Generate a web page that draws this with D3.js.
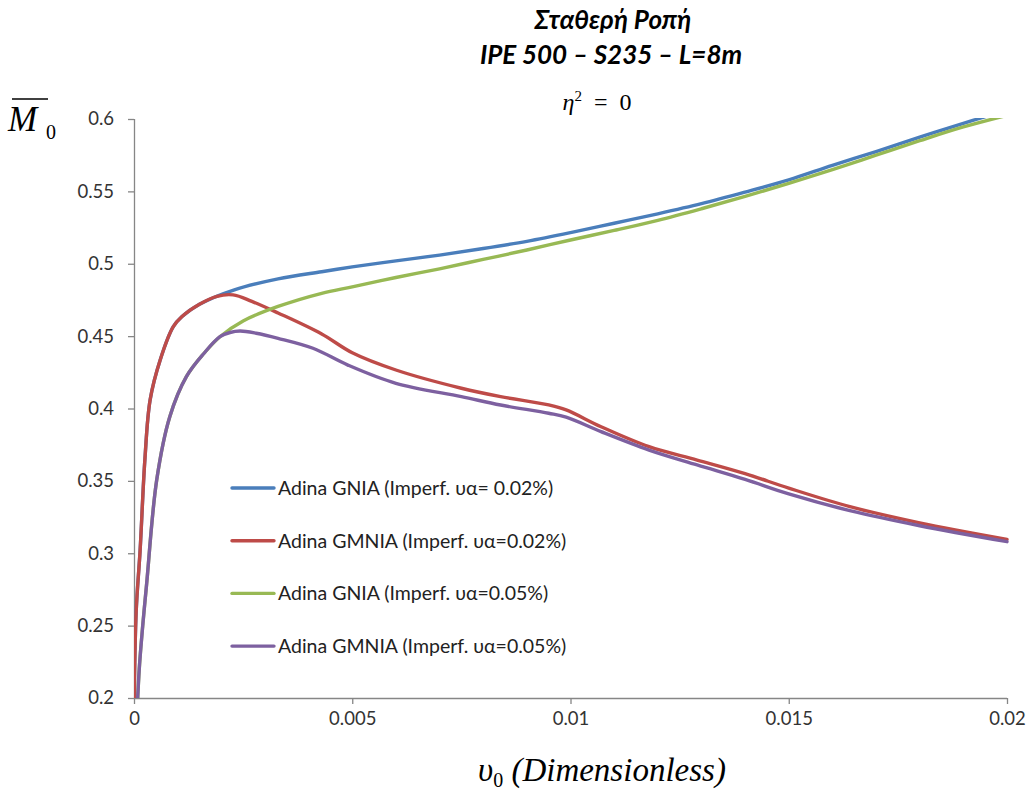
<!DOCTYPE html>
<html>
<head>
<meta charset="utf-8">
<script src="https://cdn.jsdelivr.net/npm/d3@7"></script>
<style>
  body { margin: 0; background: #fff; }
  svg { display: block; }
</style>
</head>
<body>
<svg id="chart" width="1028" height="790"></svg>
<script>
// Imperfection sensitivity of the moment resistance (uniform moment, IPE 500, S235, L = 8 m)
const seriesNames = [
  "Adina GNIA (Imperf. υα= 0.02%)",
  "Adina GMNIA (Imperf. υα=0.02%)",
  "Adina GNIA (Imperf. υα=0.05%)",
  "Adina GMNIA (Imperf. υα=0.05%)"
];
const seriesColors = ["#4A7EBB", "#BE4B48", "#98B954", "#7D60A0"];

const gnia002V = [0, 0.00005, 0.00014, 0.00025, 0.00037, 0.0006, 0.0009, 0.0011, 0.0015, 0.0023, 0.0033, 0.0043, 0.005, 0.006, 0.007, 0.008, 0.009, 0.010, 0.011, 0.012, 0.013, 0.014, 0.015, 0.016, 0.017, 0.018, 0.019, 0.0196];
const gnia002M = [0.19, 0.26, 0.302, 0.365, 0.406, 0.4335, 0.4565, 0.4635, 0.472, 0.482, 0.4895, 0.4945, 0.4978, 0.502, 0.506, 0.5105, 0.5155, 0.5215, 0.528, 0.5345, 0.5415, 0.5495, 0.558, 0.568, 0.5775, 0.5875, 0.597, 0.6025];

const gmnia002V = [0, 0.00005, 0.00014, 0.00025, 0.00037, 0.0006, 0.0009, 0.0011, 0.0015, 0.0019, 0.00227, 0.0027, 0.0033, 0.0043, 0.005, 0.006, 0.0075, 0.0084, 0.0095, 0.0099, 0.0107, 0.0118, 0.0129, 0.014, 0.015, 0.0164, 0.018, 0.020];
const gmnia002M = [0.19, 0.26, 0.302, 0.365, 0.406, 0.4335, 0.4565, 0.4635, 0.472, 0.4775, 0.4785, 0.474, 0.466, 0.4515, 0.4385, 0.4266, 0.414, 0.4082, 0.4025, 0.399, 0.3874, 0.3736, 0.3644, 0.355, 0.345, 0.3322, 0.321, 0.3096];

const gnia005V = [0.00007, 0.00012, 0.0002, 0.00029, 0.00052, 0.00082, 0.0012, 0.0016, 0.00197, 0.0025, 0.0033, 0.0043, 0.005, 0.006, 0.007, 0.008, 0.009, 0.010, 0.011, 0.012, 0.013, 0.014, 0.015, 0.016, 0.017, 0.018, 0.019, 0.020];
const gnia005M = [0.19, 0.22, 0.25, 0.279, 0.3506, 0.3943, 0.422, 0.438, 0.4496, 0.4605, 0.4705, 0.4796, 0.484, 0.4905, 0.4965, 0.503, 0.5095, 0.5164, 0.523, 0.53, 0.538, 0.5465, 0.5555, 0.565, 0.575, 0.585, 0.5945, 0.6025];

const gmnia005V = [0.00007, 0.00012, 0.0002, 0.00029, 0.00052, 0.00082, 0.0012, 0.0016, 0.00197, 0.0022, 0.00243, 0.0028, 0.0033, 0.0041, 0.0049, 0.006, 0.0075, 0.0084, 0.0095, 0.0099, 0.0107, 0.0118, 0.0129, 0.014, 0.015, 0.0164, 0.018, 0.020];
const gmnia005M = [0.19, 0.22, 0.25, 0.279, 0.3506, 0.3943, 0.422, 0.438, 0.4496, 0.4525, 0.4535, 0.452, 0.4485, 0.4416, 0.430, 0.4174, 0.4082, 0.4024, 0.3967, 0.394, 0.384, 0.3713, 0.361, 0.351, 0.341, 0.3294, 0.319, 0.308];

const xTicks = [0, 0.005, 0.01, 0.015, 0.02];
const xTickLabels = ["0", "0.005", "0.01", "0.015", "0.02"];
const yTicks = [0.2, 0.25, 0.3, 0.35, 0.4, 0.45, 0.5, 0.55, 0.6];
const yTickLabels = ["0.2", "0.25", "0.3", "0.35", "0.4", "0.45", "0.5", "0.55", "0.6"];

const seriesV = [gnia002V, gmnia002V, gnia005V, gmnia005V];
const seriesM = [gnia002M, gmnia002M, gnia005M, gmnia005M];

const svg = d3.select("#chart");
const plot = { left: 134, right: 1007, top: 119, bottom: 698 };

const x = d3.scaleLinear().domain([0, 0.02]).range([plot.left, plot.right]);
const y = d3.scaleLinear().domain([0.2, 0.6]).range([plot.bottom, plot.top]);

const tickFont = "Lato, 'Liberation Sans', sans-serif";
const axisColor = "#868686";

svg.append("defs").append("clipPath").attr("id", "plotClip")
  .append("rect")
  .attr("x", plot.left).attr("y", plot.top - 1)
  .attr("width", plot.right - plot.left + 2).attr("height", plot.bottom - plot.top + 1);

// Y axis
const yAxis = svg.append("g")
  .attr("transform", `translate(${plot.left},0)`)
  .call(d3.axisLeft(y).tickValues(yTicks).tickFormat((d, i) => yTickLabels[i]).tickSize(6).tickPadding(14));
// X axis
const xAxis = svg.append("g")
  .attr("transform", `translate(0,${plot.bottom})`)
  .call(d3.axisBottom(x).tickValues(xTicks).tickFormat((d, i) => xTickLabels[i]).tickSize(6).tickPadding(8));

[yAxis, xAxis].forEach(g => {
  g.select(".domain").attr("stroke", axisColor).attr("stroke-width", 1.3);
  g.selectAll(".tick line").attr("stroke", axisColor).attr("stroke-width", 1.3);
  g.selectAll(".tick text").attr("fill", "#333").style("font-family", tickFont).style("font-size", "18.5px");
});
xAxis.select(".domain").attr("d", `M${plot.left},0.5H${plot.right}`);
yAxis.select(".domain").attr("d", `M0.5,${plot.top}V${plot.bottom}`);

// Curves
const line = d3.line()
  .x(d => x(d[0]))
  .y(d => y(d[1]))
  .curve(d3.curveCatmullRom.alpha(0.5));

const curves = svg.append("g").attr("clip-path", "url(#plotClip)");
seriesV.forEach((vs, i) => {
  const pts = vs.map((v, k) => [v, seriesM[i][k]]);
  curves.append("path")
    .datum(pts)
    .attr("fill", "none")
    .attr("stroke", seriesColors[i])
    .attr("stroke-width", 3.4)
    .attr("stroke-linejoin", "round")
    .attr("stroke-linecap", "round")
    .attr("d", line);
});

// Legend
const legend = svg.append("g").attr("transform", "translate(232,488)");
seriesNames.forEach((name, i) => {
  const row = legend.append("g").attr("transform", `translate(0,${i * 52.7})`);
  row.append("line")
    .attr("x1", 0).attr("x2", 42).attr("y1", 0).attr("y2", 0)
    .attr("stroke", seriesColors[i]).attr("stroke-width", 3.4).attr("stroke-linecap", "round");
  row.append("text")
    .attr("x", 46).attr("y", 7)
    .style("font-family", tickFont).style("font-size", "19.5px")
    .attr("fill", "#222")
    .text(name);
});

// Titles
const titleFont = "Lato, 'Open Sans', sans-serif";
svg.append("text").attr("x", 613).attr("y", 29).attr("text-anchor", "middle")
  .style("font-family", titleFont).style("font-size", "26px")
  .style("font-weight", "bold").style("font-style", "italic")
  .text("Σταθερή Ροπή");
svg.append("text").attr("x", 611).attr("y", 64).attr("text-anchor", "middle")
  .style("font-family", titleFont).style("font-size", "26px")
  .style("font-weight", "bold").style("font-style", "italic")
  .text("IPE 500 – S235 – L=8m");

const serif = "'Liberation Serif', 'DejaVu Serif', serif";
const eta = svg.append("text").attr("x", 597).attr("y", 110).attr("text-anchor", "middle")
  .style("font-family", serif).style("font-size", "24px").attr("xml:space", "preserve");
eta.append("tspan").style("font-style", "italic").text("η");
eta.append("tspan").attr("dy", -9).style("font-size", "15px").text("2");
eta.append("tspan").attr("dy", 9).text("\u2002=\u20020");

// Y-axis title: M̄₀
const yTitle = svg.append("g");
yTitle.append("text").attr("x", 8).attr("y", 131)
  .style("font-family", serif).style("font-size", "35px").style("font-style", "italic")
  .text("M");
yTitle.append("line").attr("x1", 12).attr("x2", 48).attr("y1", 99).attr("y2", 99)
  .attr("stroke", "#000").attr("stroke-width", 1.6);
yTitle.append("text").attr("x", 46).attr("y", 139)
  .style("font-family", serif).style("font-size", "20px")
  .text("0");

// X-axis title: υ₀ (Dimensionless)
const xTitle = svg.append("text").attr("x", 478).attr("y", 781)
  .style("font-family", serif).style("font-size", "33px");
xTitle.append("tspan").style("font-style", "italic").text("υ");
xTitle.append("tspan").attr("dy", 6).style("font-size", "20px").text("0");
xTitle.append("tspan").attr("dy", -6).style("font-style", "italic").text(" (Dimensionless)");
</script>
</body>
</html>
